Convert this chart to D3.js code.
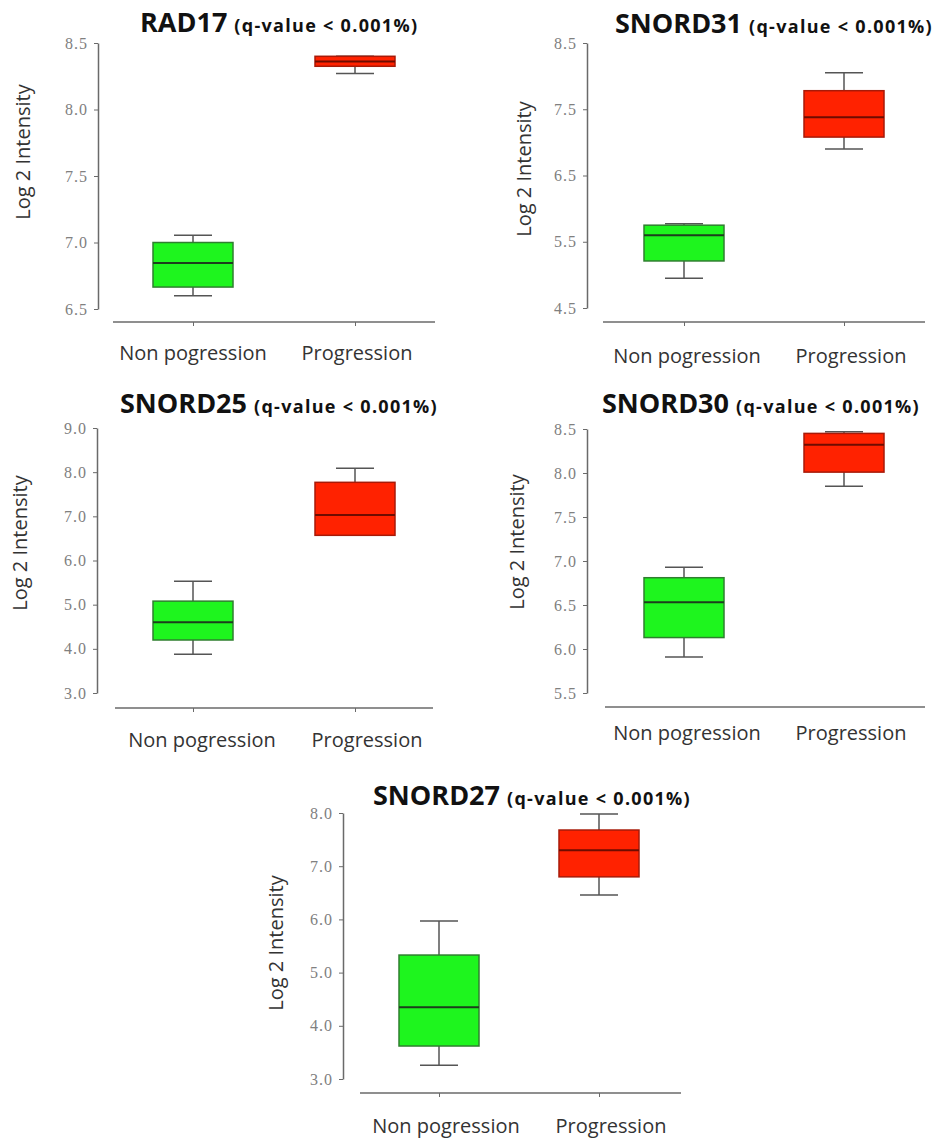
<!DOCTYPE html>
<html>
<head>
<meta charset="utf-8">
<script src="https://cdn.jsdelivr.net/npm/d3@7"></script>
<style>
  body { margin: 0; background: #fff; }
  svg { display: block; }
  .tick text { font-family: "Liberation Serif", serif; font-size: 16px; letter-spacing: 1px; fill: #808080; }
  .title { font-family: "Open Sans", sans-serif; font-weight: bold; fill: #111; }
  .ylab, .xlab { font-family: "Open Sans", sans-serif; fill: #333; }
</style>
</head>
<body>
<svg id="chart" width="940" height="1140"></svg>
<script>
/* ---------- data ---------- */
const genes = ["RAD17", "SNORD31", "SNORD25", "SNORD30", "SNORD27"];
const groups = ["Non pogression", "Progression"];
const qLabel = "(q-value < 0.001%)";

// [min, q1, median, q3, max] per gene
const nonProgStats = [
  [6.60, 6.665, 6.845, 7.00, 7.055],
  [4.95, 5.21, 5.60, 5.75, 5.77],
  [3.88, 4.20, 4.60, 5.08, 5.53],
  [5.91, 6.13, 6.53, 6.81, 6.93],
  [3.26, 3.62, 4.35, 5.33, 5.97]
];
const progStats = [
  [8.27, 8.325, 8.36, 8.40, 8.40],
  [6.90, 7.08, 7.38, 7.78, 8.05],
  [6.57, 6.57, 7.03, 7.77, 8.09],
  [7.85, 8.01, 8.32, 8.45, 8.47],
  [6.46, 6.80, 7.30, 7.68, 7.98]
];
const yDomains = [[6.5, 8.5], [4.5, 8.5], [3, 9], [5.5, 8.5], [3, 8]];
const yTickSteps = [0.5, 1, 1, 0.5, 1];

/* ---------- panel layout (pixels) ---------- */
const layout = [
  { ax: 98,  top: 43,  bot: 309,  xy: 322,  line: [113, 435], cats: [193, 355], title: [140, 32],  ylab: [22, 152],  ldy: 38, ldx: [0, 2],  ticks: true },
  { ax: 587, top: 43,  bot: 308,  xy: 322,  line: [603, 925], cats: [684, 844], title: [615, 33],  ylab: [523, 169], ldy: 41, ldx: [3, 7],  ticks: true },
  { ax: 97,  top: 428, bot: 693,  xy: 708,  line: [115, 433], cats: [193, 355], title: [120, 413], ylab: [19, 543],  ldy: 39, ldx: [9, 12], ticks: true },
  { ax: 587, top: 429, bot: 693,  xy: 707,  line: [605, 925], cats: [684, 844], title: [602, 413], ylab: [516, 542], ldy: 33, ldx: [3, 7],  ticks: false },
  { ax: 343, top: 813, bot: 1079, xy: 1093, line: [360, 681], cats: [439, 599], title: [373, 805], ylab: [275, 943], ldy: 40, ldx: [7, 12], ticks: true }
];

const boxStyle = [
  { fill: "#1ef51e", stroke: "#2f7f2f", median: "#1d3d1d" },
  { fill: "#ff2200", stroke: "#a81a08", median: "#6e0c00" }
];
const boxW = 80, capW = 38;

const svg = d3.select("#chart");

genes.forEach((gene, i) => {
  const L = layout[i];
  const g = svg.append("g");

  const y = d3.scaleLinear().domain(yDomains[i]).range([L.bot, L.top]);
  const x = d3.scalePoint().domain(groups).range(L.cats);
  const tv = d3.range(yDomains[i][0], yDomains[i][1] + 1e-9, yTickSteps[i]);

  // y axis
  const yAx = g.append("g")
    .attr("transform", `translate(${L.ax},0)`)
    .call(d3.axisLeft(y).tickValues(tv).tickFormat(d3.format(".1f")).tickSize(4).tickSizeOuter(0).tickPadding(6));
  yAx.select(".domain").attr("stroke", "#6a6a6a").attr("stroke-width", 1.5);
  yAx.selectAll(".tick line").attr("stroke", "#6a6a6a");

  // x axis
  g.append("line")
    .attr("x1", L.line[0]).attr("x2", L.line[1])
    .attr("y1", L.xy).attr("y2", L.xy)
    .attr("stroke", "#6a6a6a").attr("stroke-width", 1.5);
  if (L.ticks) {
    const xAx = g.append("g")
      .attr("transform", `translate(0,${L.xy})`)
      .call(d3.axisBottom(x).tickSize(4).tickSizeOuter(0).tickFormat(""));
    xAx.select(".domain").remove();
    xAx.selectAll(".tick line").attr("stroke", "#6a6a6a");
  }

  // x labels
  g.selectAll(".xlab").data(groups).enter().append("text")
    .attr("class", "xlab")
    .attr("x", (d, j) => x(d) + L.ldx[j])
    .attr("y", L.xy + L.ldy)
    .attr("text-anchor", "middle")
    .attr("font-size", 20)
    .text(d => d);

  // y label
  g.append("text")
    .attr("class", "ylab")
    .attr("transform", `translate(${L.ylab[0]},${L.ylab[1]}) rotate(-90)`)
    .attr("text-anchor", "middle")
    .attr("dominant-baseline", "central")
    .attr("font-size", 20)
    .text("Log 2 Intensity");

  // title
  const t = g.append("text").attr("class", "title")
    .attr("x", L.title[0]).attr("y", L.title[1]);
  t.append("tspan").attr("font-size", 27).text(gene);
  t.append("tspan").attr("font-size", 18).attr("letter-spacing", 1.3).attr("dx", 7).text(qLabel);

  // boxes
  [nonProgStats[i], progStats[i]].forEach((s, j) => {
    const cx = x(groups[j]);
    const st = boxStyle[j];
    const [mn, q1, md, q3, mx] = s;
    const bg = g.append("g");
    // whiskers
    bg.append("line").attr("x1", cx).attr("x2", cx).attr("y1", y(mx)).attr("y2", y(q3))
      .attr("stroke", "#555").attr("stroke-width", 1.5);
    bg.append("line").attr("x1", cx).attr("x2", cx).attr("y1", y(q1)).attr("y2", y(mn))
      .attr("stroke", "#555").attr("stroke-width", 1.5);
    [mn, mx].forEach(v => {
      bg.append("line").attr("x1", cx - capW / 2).attr("x2", cx + capW / 2)
        .attr("y1", y(v)).attr("y2", y(v))
        .attr("stroke", "#555").attr("stroke-width", 1.5);
    });
    // box
    bg.append("rect")
      .attr("x", cx - boxW / 2).attr("width", boxW)
      .attr("y", y(q3)).attr("height", Math.max(1, y(q1) - y(q3)))
      .attr("fill", st.fill).attr("stroke", st.stroke).attr("stroke-width", 1.5);
    bg.append("line")
      .attr("x1", cx - boxW / 2).attr("x2", cx + boxW / 2)
      .attr("y1", y(md)).attr("y2", y(md))
      .attr("stroke", st.median).attr("stroke-width", 2);
  });
});
</script>
</body>
</html>
